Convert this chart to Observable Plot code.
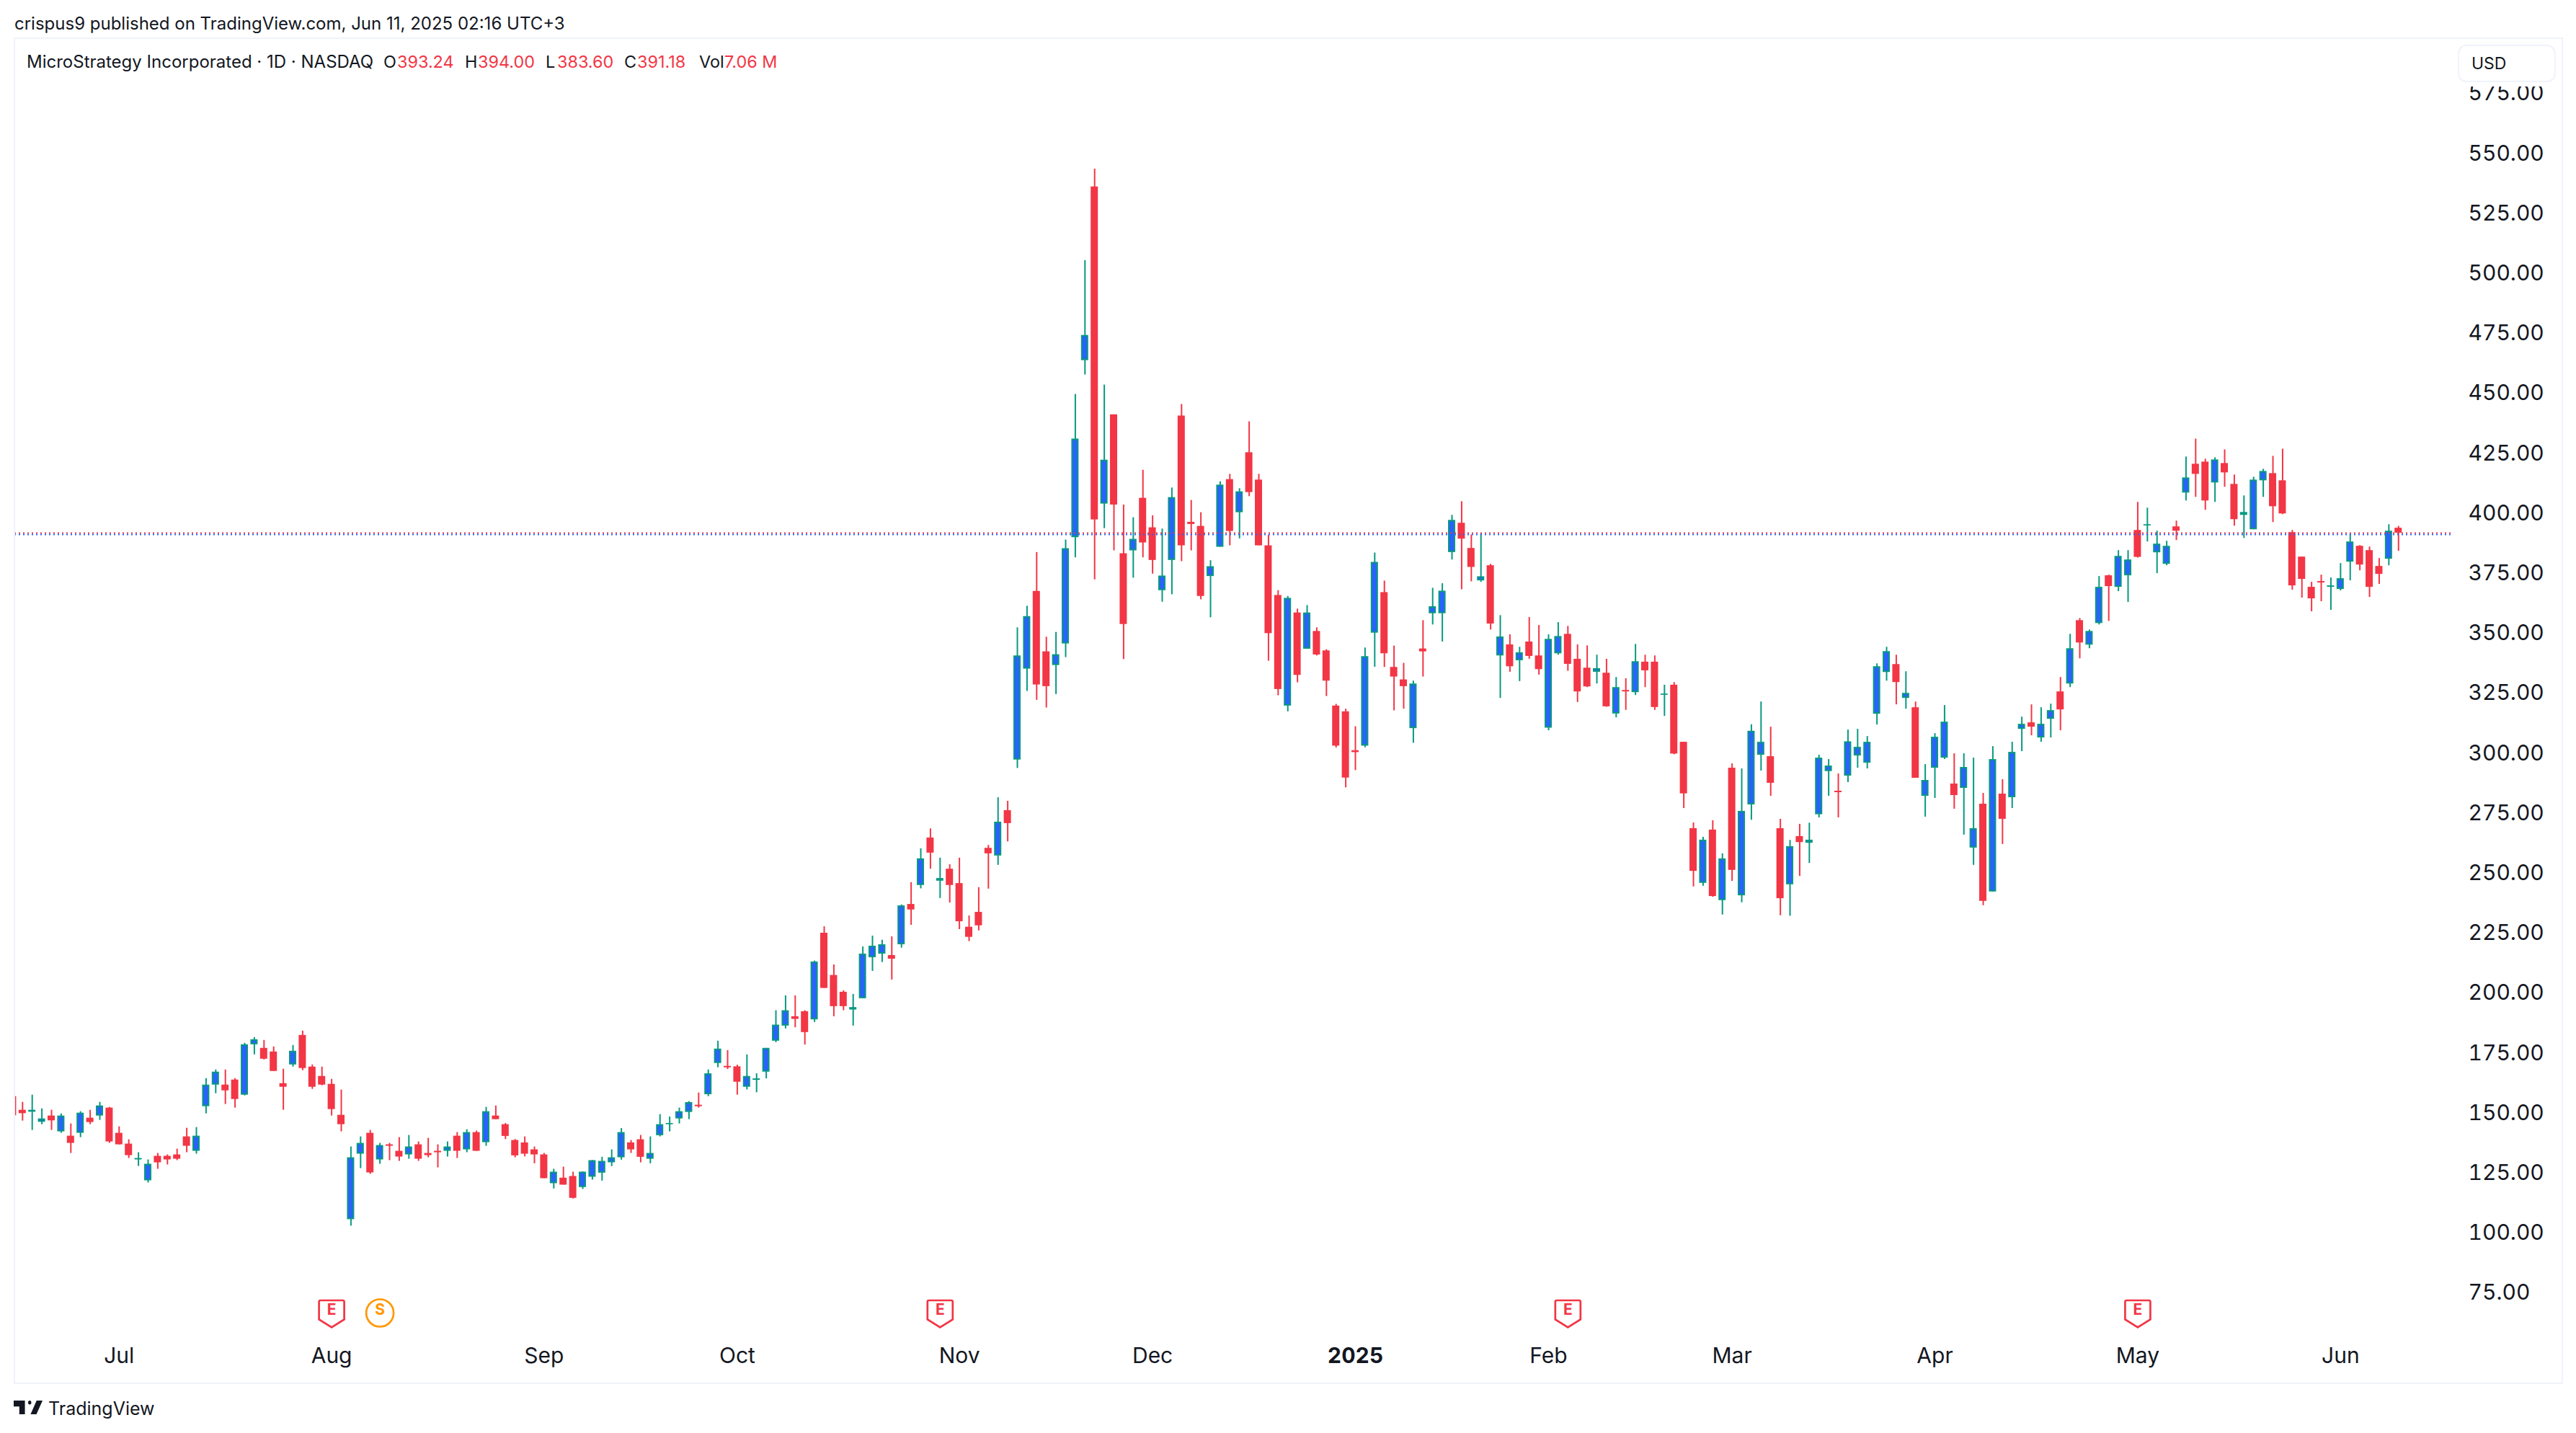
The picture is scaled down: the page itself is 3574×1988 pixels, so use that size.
<!DOCTYPE html>
<html>
<head>
<meta charset="utf-8">
<script src="https://cdn.jsdelivr.net/npm/d3@7"></script>
<script src="https://cdn.jsdelivr.net/npm/@observablehq/plot@0.6"></script>
<style>
  html, body { margin: 0; padding: 0; background: #fff; overflow: hidden; }
  #page { position: relative; width: 3574px; height: 1988px; font-family: Inter, sans-serif; color: #131722; }
  #chart svg { display: block; }
  .abs { position: absolute; white-space: nowrap; line-height: 1; }
  #frame { left: 19px; top: 52px; width: 3533px; height: 1864px; border: 2px solid #f0f3fa; pointer-events: none; }
  #usd { left: 3410px; top: 62px; width: 132px; height: 48px; border: 2px solid #f0f3fa; border-radius: 12px; background: #fff; box-shadow: 0 0 0 6px #fff; }
  #usd span { position: absolute; left: 17px; top: 13px; font-size: 23px; line-height: 1; }
  .red { color: #f23645; }
</style>
</head>
<body>
<div id="page">
  <div id="chart"></div>
  <div id="frame" class="abs"></div>
  <div id="usd" class="abs"><span>USD</span></div>
  <div class="abs" style="left:20px;top:21px;font-size:24px">crispus9 published on TradingView.com, Jun 11, 2025 02:16 UTC+3</div>
  <div class="abs" style="left:37px;top:74px;font-size:24px">MicroStrategy Incorporated · 1D · NASDAQ</div>
  <div class="abs" style="left:532px;top:74px;font-size:23.4px">O</div>
  <div class="abs red" style="left:551px;top:74px;font-size:23.4px">393.24</div>
  <div class="abs" style="left:645px;top:74px;font-size:23.4px">H</div>
  <div class="abs red" style="left:663px;top:74px;font-size:23.4px">394.00</div>
  <div class="abs" style="left:757px;top:74px;font-size:23.4px">L</div>
  <div class="abs red" style="left:773px;top:74px;font-size:23.4px">383.60</div>
  <div class="abs" style="left:866px;top:74px;font-size:23.4px">C</div>
  <div class="abs red" style="left:884px;top:74px;font-size:23.4px">391.18</div>
  <div class="abs" style="left:970px;top:74px;font-size:23.4px">Vol</div>
  <div class="abs red" style="left:1005px;top:74px;font-size:23.4px">7.06 M</div>
  <svg class="abs" style="left:19px;top:1943px" width="40" height="19" viewBox="0 6 36 14" preserveAspectRatio="none" fill="#131722"><path d="M14 6H0v6h7v8h7V6Z"/><circle cx="20" cy="8" r="2"/><path d="M29 20h-7.9l7.5-14H36l-7.6 14Z"/></svg>
  <div class="abs" style="left:67px;top:1942px;font-size:25px;font-weight:400">TradingView</div>
</div>
<script>
const opens = [
156.3,150.6,149.8,145.6,148.2,141.6,139.8,141,147.3,148.2,
151.5,141,136.5,129.9,121.2,131.4,131.4,132,139.5,133.5,
152.1,161.1,161.1,163.2,156.9,177.9,176.4,174.9,161.7,169.5,
181.8,168.6,164.7,161.4,148.5,105,132.3,141,129.9,136.2,
133.5,132,136.2,132.6,133.5,133.5,139.8,134.1,141.3,137.1,
148.2,144.6,138,137,134.1,132,120,122.3,123,118.4,
122.7,124.4,128.7,130.8,137,138.3,130.2,140,144.6,147,
149.7,152.7,157.1,170.1,168.9,168.7,160.2,163.1,166.5,179.4,
185.7,189.6,191.7,188.3,224.4,206.8,199.8,192.4,197.1,214.2,
215.7,215.1,219.6,236.4,244.3,264.1,246.1,251.1,245.1,226.9,
233.1,259.8,256.6,275.5,296.6,334.5,366.9,341.7,336,345,
389.3,463.1,535.5,403.3,440.5,382.6,383.8,405.7,393.4,367.2,
379.8,440,395.7,394,373.1,385.3,413.5,399.7,424.7,413.3,
385.9,365.2,319.1,357.9,342.8,350.2,342.1,319.1,316.7,300.5,
302.4,349.5,366.4,335.2,330,309.7,342.9,357.6,357.6,383.1,
395.3,384.8,371.3,377.6,340,344.6,338,345.8,340,309.9,
340.9,349,338.6,334.9,333.2,332.8,315.8,325.6,324.7,337.4,
337.4,323.6,327.8,304,268,245.2,267.4,238,293.2,240,
277.9,298.6,298,268,244.6,264.7,261.9,273.8,291.8,283.6,
289.9,298.3,295.3,315.7,333.1,336.4,322.3,318.4,281.5,293.2,
297.4,286.6,284.8,259.9,278.2,241.6,282.4,280.9,309.4,312.1,
305.8,313.6,325,328.3,354.7,344.5,353.5,373.4,368.6,373.4,
392.3,394.2,383,378.2,393.8,407.9,419.9,420.8,412.1,420.2,
411.5,398.6,392.6,413,416,413,391.4,381.2,368.6,371,
368.6,367.7,379.1,385.7,383.9,377.3,380.3,393.24];
const closes = [
148.3,149.2,150.6,147,146.2,148.2,136.8,149.4,145.5,152.4,
137.4,136.2,131.7,130.5,128.1,128.7,129.9,130.2,135.6,139.8,
161.1,166.5,158.7,155.1,177.9,180,171.9,166.8,160.2,175.2,
168,160.2,161.1,150.9,144.6,130.8,136.8,124.5,135.9,135.6,
131.1,135.3,130.2,131.7,132.9,135.3,133.5,141.3,133.5,150,
146.7,139.7,131.6,132.3,132,122.1,124.8,119.4,113.9,124.8,
129.6,129.3,130.8,141.3,134.1,131,132.6,144.6,145.1,150,
153.8,152.1,165.8,176.1,168.3,162.3,164.7,163.7,176.4,186.1,
192.1,188.5,183,212.4,201.4,193.8,193.8,193.4,215.7,219,
219.6,213.6,235.8,234.1,255.4,257.8,247.2,244.3,229.2,222.7,
227.5,257.5,270.7,270.1,340,356.4,327.9,327.2,340.5,384.7,
430.4,473.6,396.7,421.6,402.9,353.1,388.6,387.1,379.8,373.3,
406,385.9,394.8,364.8,377.2,411.2,391.9,408.4,408.1,385.9,
349.3,326,364,331.9,357.9,340.4,329.5,302.4,289.1,299.7,
339.7,379,340.9,331.2,327.2,328.3,341.7,360.5,367,396.5,
388.7,376.9,373,353.3,347.9,335.5,341.3,339.8,334.3,346.9,
348.1,336.5,325,327.1,334.7,318.8,326.8,325,337.6,333.8,
318.5,324.1,299.1,282.5,250.2,263.2,239.7,255.4,250.6,275.2,
308.6,304,286.9,238.8,260.5,262.2,263.2,297.4,294.1,283,
304.2,301.9,304,335.5,341.8,328.9,324.4,289,288.1,306.1,
312.4,281.8,293.5,268,237.7,296.8,271.9,299.8,311.5,310.3,
311.5,317.2,317.5,343,345.4,350.2,368.6,368.9,381.5,380,
381.1,394.7,386.6,385.7,392,414.2,415.7,404.6,421.7,416.3,
396.8,399.8,413.3,416.9,402.2,399.2,369.2,371.9,363.8,370.4,
369.2,372.2,387.5,377.9,368.6,374,392,391.18];
const highs = [
156.3,153.9,156.9,151.2,150.6,149.1,144.9,150,150.6,153.9,
151.8,143.7,138.3,132.9,129.9,132.6,132,134.4,143.1,143.4,
163.8,167.4,167.4,163.8,178.5,180.9,179.7,177,167.7,177.6,
183.6,169.5,168.6,163.5,159,135.3,139.5,142.2,136.8,136.8,
139.2,140.1,137.4,138.9,136.2,137.4,141.3,142.5,141.9,151.8,
152.4,145.1,138.4,139.5,135.3,132.6,126,126.9,124.8,124.9,
129.7,131,134.1,143,138,140.1,139.5,148.8,147.8,151.5,
154.2,157.8,167.4,179.4,175.5,169.4,173.7,165.8,176.4,192.1,
198.3,198.3,192.1,212.8,227.1,211.2,200.4,198.9,218.7,223.2,
221.5,222.9,236.2,245.5,259.6,267.9,255.7,253,255.7,231.6,
243.4,261,280.9,279.4,351.7,360.7,383.1,347.8,349.8,388.3,
449,504.8,542.9,452.9,440.5,402.9,397.6,417.4,398.4,392.9,
410,444.8,404.8,399.7,379.7,412.6,415.7,409.7,437.6,415.7,
390.3,367.2,364.8,359.5,361,351.7,342.6,319.8,317.8,310.5,
343.3,382.9,371.2,344.1,336.9,329.5,354.7,368.2,370.1,398.6,
404.3,390.4,390.9,378.2,356.8,348.8,343.6,356,352.7,348.8,
353.9,352.3,344.6,344.2,340.3,338.6,331,330.5,344.8,340.3,
340,327.8,328.9,304,270.4,264.4,271.3,257.5,295,292.9,
311.3,320.8,310.3,271.9,263.1,269.8,270.3,298.6,296.8,290.8,
309.1,309.4,306.4,336.7,343.6,340.3,333.4,320.8,294.7,307.6,
319.3,299.2,299.2,297.4,282.7,302.2,288.4,304,314.5,319.6,
318.4,319.9,331,349,355.6,350.8,373.1,373.7,383.9,383.9,
404,401.6,392,387.8,396.2,422.9,430.4,422,422.6,425.9,
415.4,406.7,414.5,417.8,423.2,426.2,392.3,381.2,370.7,373.7,
372.5,378.5,390.8,386,385.4,380.6,394.7,394];
const lows = [
148.3,146.1,142.2,144.6,142.2,141,132.6,139.2,144.6,146.4,
136.8,136.2,130.5,127.2,120.3,126,127.8,129.6,132.9,132.3,
149.1,157.5,153,151.5,156.6,173.7,171.6,166.8,150.6,168.6,
167.1,159.3,160.8,148.2,141.6,102.3,126.3,123.9,128.1,129.6,
129.3,130.2,129.3,130.8,126.6,131.1,130.5,132.9,133.5,135.6,
146.7,138.4,130.8,131.2,128.3,122.1,117.8,119.4,113.6,117.6,
121.5,121.1,127.1,129.8,132.6,128.7,128.3,139.5,141.6,144.9,
146.7,151.5,156.3,168.3,167.6,156.9,159.1,157.9,163.7,178.8,
184.5,185,177.8,187.2,201.4,189.6,192.1,185.7,197.1,208.5,
212.2,204.9,218.2,227.7,242.9,251.1,238.9,237,225.9,220.9,
225.4,242.8,252.7,262.5,293.1,325.2,321.5,318.3,323.9,339.3,
380.9,457.1,371.7,393.1,383.8,338.5,372.4,380.9,374.1,362.4,
365.5,379.3,383.8,363.4,355.9,385.3,385.9,388.8,406.4,385.9,
337.8,323.4,316.7,328.8,342.8,340,323.1,301.6,285,292.2,
301.7,335.3,335.2,317.1,317.8,303.6,331.2,352.9,345.8,380,
367.6,370.9,370.7,350.8,322.3,333.2,329.3,338.6,332,308.8,
340.3,333.6,320.6,326.8,328.3,318.6,314.2,317.3,323.5,326.8,
317.3,314.8,298.8,276.4,243.7,244,239.4,232,246,237.1,
271.5,292,281.5,231.7,231.5,248.1,253.5,272.5,281.5,272.5,
287.2,293.2,292.9,311.2,329.5,319.6,317.8,289,272.8,280.6,
296.8,276.1,265.3,252.7,235.9,241.6,261.4,276.4,300.1,306.7,
304,305.8,308.8,326.8,338.8,343,352.9,354.4,366.8,362.3,
380.8,387.5,374.3,377.6,388.1,404.6,406.1,400.7,404,410.3,
394.1,389,392.6,406.1,395.6,398.9,367.4,364.1,358.4,362.6,
359,367.1,371.3,375.5,364.4,369.8,377.6,383.6];

const lastClose = 391.18;
const priceTicks = [75,100,125,150,175,200,225,250,275,300,325,350,375,400,425,450,475,500,525,550,575];
const monthBars = [11,33,55,75,98,118,159,178,199,220,241];
const monthNames = ["Jul","Aug","Sep","Oct","Nov","Dec","Feb","Mar","Apr","May","Jun"];
const yearBars = [139];
const yearNames = ["2025"];
const earningsBars = [33,96,161,220];
const splitBars = [38];

const RED = "#f23645", BLUE = "#2962ff", TEAL = "#089981", INK = "#131722";
const bars = opens.map((o, i) => ({i, o, h: highs[i], l: lows[i], c: closes[i]}));
const upBars = bars.filter(d => d.c >= d.o);
const half = 0.373;
const bodyLeft = d => d.i - half, bodyRight = d => d.i + half;
const shield = {draw(ctx) {
  ctx.moveTo(-15.5, -18.5); ctx.lineTo(15.5, -18.5);
  ctx.quadraticCurveTo(17.5, -18.5, 17.5, -16.5);
  ctx.lineTo(17.5, 8); ctx.lineTo(0, 19); ctx.lineTo(-17.5, 8);
  ctx.lineTo(-17.5, -16.5); ctx.quadraticCurveTo(-17.5, -18.5, -15.5, -18.5);
  ctx.closePath();
}};
const markerRise = 38;

const chart = Plot.plot({
  width: 3574, height: 1988,
  marginLeft: 20, marginRight: 174, marginTop: 54, marginBottom: 128,
  x: {type: "linear", domain: [0.194, 252.43], axis: null},
  y: {type: "linear", domain: [54.33, 597], axis: null},
  style: {fontFamily: "Inter, sans-serif", color: INK, background: "#fff"},
  marks: [
    Plot.ruleX(bars, {x: "i", y1: "l", y2: "h", stroke: d => d.c >= d.o ? TEAL : RED, strokeWidth: 2, clip: true}),
    Plot.rect(bars, {x1: bodyLeft, x2: bodyRight, y1: d => Math.min(d.o, d.c), y2: d => Math.max(d.o, d.c), fill: d => d.c >= d.o ? TEAL : RED, clip: true}),
    Plot.rect(upBars, {x1: bodyLeft, x2: bodyRight, y1: "o", y2: "c", fill: BLUE, inset: 2, clip: true}),
    Plot.ruleY([lastClose], {stroke: RED, strokeWidth: 2, strokeDasharray: "2 4"}),
    Plot.ruleY([lastClose], {stroke: BLUE, strokeWidth: 2, strokeDasharray: "2 4", dy: 2}),
    Plot.axisY(priceTicks, {anchor: "right", tickSize: 0, tickPadding: 24, tickFormat: d3.format(".2f"), fontSize: 30, dy: 2, label: null}),
    Plot.axisX(monthBars, {anchor: "bottom", tickSize: 0, tickPadding: 9, tickFormat: d => monthNames[monthBars.indexOf(d)], fontSize: 30, label: null}),
    Plot.axisX(yearBars, {anchor: "bottom", tickSize: 0, tickPadding: 9, tickFormat: d => yearNames[yearBars.indexOf(d)], fontSize: 30, fontWeight: 700, label: null}),
    Plot.dot(earningsBars, {x: d => d, frameAnchor: "bottom", dy: -markerRise, symbol: shield, r: 20, stroke: RED, strokeWidth: 2.7, fill: "#fff"}),
    Plot.text(earningsBars, {x: d => d, frameAnchor: "bottom", dy: -markerRise + 1, text: () => "E", fill: RED, fontSize: 21, fontWeight: 700}),
    Plot.dot(splitBars, {x: d => d, frameAnchor: "bottom", dy: -markerRise - 1, symbol: "circle", r: 19, stroke: "#ff9800", strokeWidth: 2.7, fill: "#fff"}),
    Plot.text(splitBars, {x: d => d, frameAnchor: "bottom", dy: -markerRise + 1, text: () => "S", fill: "#ff9800", fontSize: 21, fontWeight: 700})
  ]
});
document.getElementById("chart").appendChild(chart);
</script>
</body>
</html>
